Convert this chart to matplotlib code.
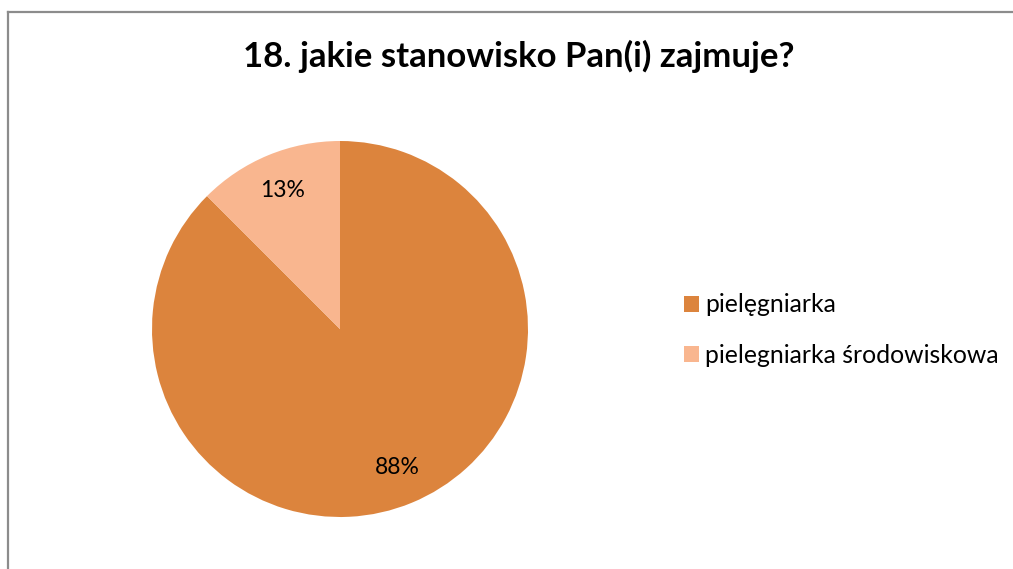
import matplotlib.pyplot as plt
from matplotlib.lines import Line2D

plt.rcParams['font.family'] = ['Lato', 'DejaVu Sans']

title = '18. jakie stanowisko Pan(i) zajmuje?'
categories = ['pielęgniarka', 'pielegniarka środowiskowa']
counts = [7, 1]
colors = ['#DC843D', '#F9B68F']


def pct_label(p):
    # Excel rounds half up: 87.5 -> 88, 12.5 -> 13
    return '%d%%' % int(p + 0.5)


fig = plt.figure(figsize=(10.13, 5.69), dpi=100)

# chart frame (left and top edges visible)
fig.add_artist(Line2D([8 / 1013, 8 / 1013], [0, 1 - 12 / 569], color='#8c8c8c', lw=1.6))
fig.add_artist(Line2D([8 / 1013, 1], [1 - 12 / 569, 1 - 12 / 569], color='#8c8c8c', lw=1.6))

ax = fig.add_axes([152 / 1013, 52 / 569, 376 / 1013, 376 / 569])
wedges, texts, autotexts = ax.pie(counts, colors=colors, startangle=90, counterclock=False,
                                  autopct=pct_label, pctdistance=0.8, radius=1,
                                  textprops={'fontsize': 16.5, 'color': 'black'})
ax.set_xlim(-1, 1)
ax.set_ylim(-1, 1)
ax.set_aspect('equal')

fig.text(519 / 1013, 1 - 56 / 569, title, ha='center', va='center',
         fontsize=25, fontweight='bold')

fig.legend(wedges, categories, loc='center left', bbox_to_anchor=(674 / 1013, 1 - 330 / 569),
           frameon=False, fontsize=17.8, handlelength=0.6, handleheight=0.6,
           handletextpad=0.25, labelspacing=1.1, borderaxespad=0)

fig.savefig('out.png', dpi=100)
